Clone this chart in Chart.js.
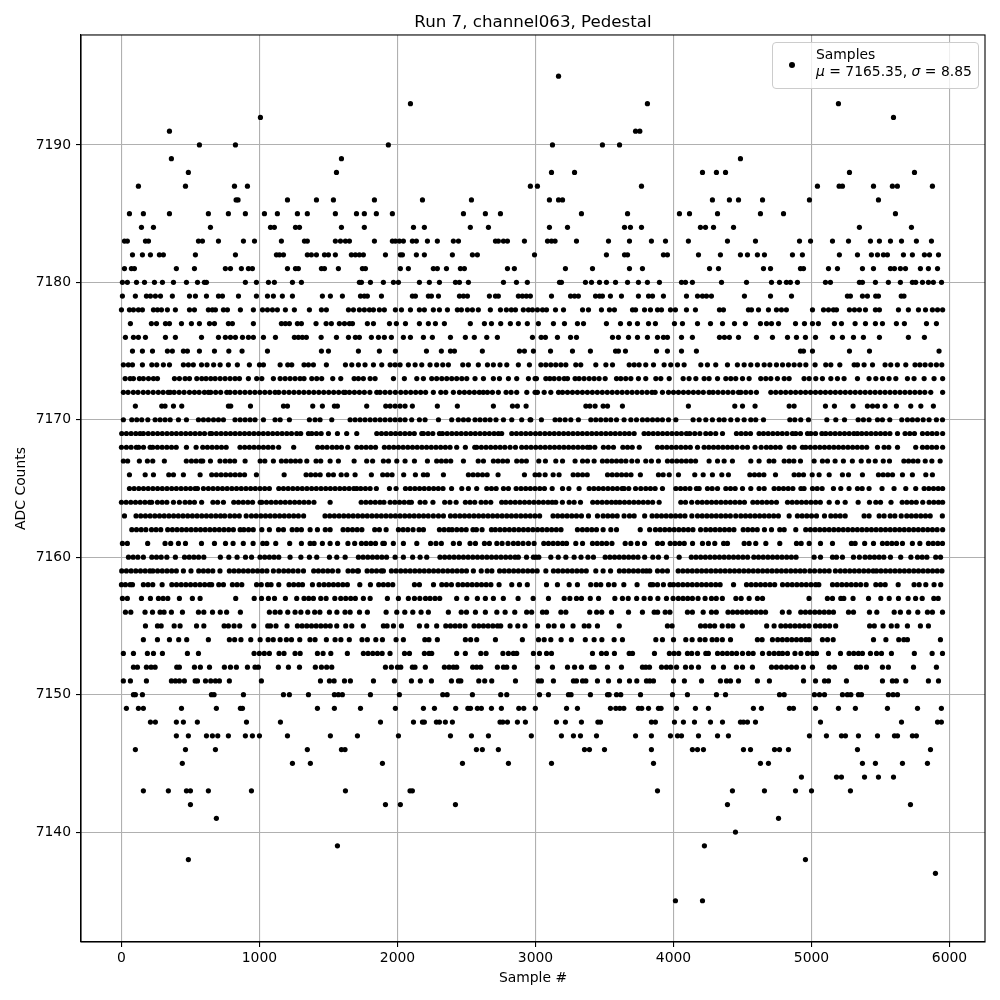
<!DOCTYPE html>
<html>
<head>
<meta charset="utf-8">
<script src="https://cdn.jsdelivr.net/npm/chart.js@4"></script>
<style>
  body { margin: 0; background: #fff; }
  #wrap { position: relative; width: 1000px; height: 1000px; }
  #legendBox {
    position: absolute; left: 772px; top: 42px; width: 205px; height: 45px;
    background: rgba(255, 255, 255, 0.8); border: 1px solid #ccc; border-radius: 4px;
    font: 13.9px "DejaVu Sans"; color: #000;
  }
  #legendDot { position: absolute; left: 16px; top: 19px; width: 6px; height: 6px; border-radius: 50%; background: #000; }
  #legendText { position: absolute; left: 43px; top: 3px; line-height: 17px; white-space: nowrap; }
</style>
</head>
<body>
<div id="wrap">
  <canvas id="myChart" width="1000" height="1000"></canvas>
  <div id="legendBox">
    <div id="legendDot"></div>
    <div id="legendText">Samples<br><i>μ</i> = 7165.35, <i>σ</i> = 8.85</div>
  </div>
</div>
<script>
// tick labels
const xTicks = [0, 1000, 2000, 3000, 4000, 5000, 6000];
const yTicks = [7140, 7150, 7160, 7170, 7180, 7190];

// sample numbers per ADC level (dense rows are estimates)
const adc7195 = [3167];
const adc7193 = [2094, 3811, 5195];
const adc7192 = [1007, 5594];
const adc7191 = [348, 3725, 3756];
const adc7190 = [565, 826, 1934, 3123, 3485, 3609];
const adc7189 = [362, 1594, 4485];
const adc7188 = [485, 1558, 3116, 3283, 4210, 4311, 4377, 5275, 5746];
const adc7187 = [123, 464, 819, 913, 2963, 3014, 3768, 5043, 5200, 5224, 5449, 5586, 5622, 5876];
const adc7186 = [831, 845, 1203, 1413, 1536, 1833, 2181, 2536, 3101, 3167, 3196, 4282, 4405, 4471, 4645, 4985, 5485];
const adc7185 = [58, 159, 348, 630, 775, 898, 1036, 1130, 1275, 1347, 1550, 1703, 1760, 1847, 1963, 2478, 2637, 2746, 3333, 3667, 4043, 4116, 4319, 4630, 4797, 5608];
const adc7184 = [145, 232, 645, 1080, 1108, 1261, 1290, 1594, 1760, 2116, 2195, 2528, 2659, 3101, 3232, 3645, 3688, 3768, 4195, 4232, 4290, 4435, 5347, 5724];
const adc7183 = [22, 43, 174, 196, 558, 587, 703, 884, 964, 1159, 1326, 1347, 1550, 1587, 1623, 1652, 1833, 1963, 1985, 2014, 2043, 2108, 2137, 2217, 2289, 2405, 2442, 2710, 2731, 2768, 2797, 2920, 3087, 3116, 3142, 3297, 3529, 3681, 3840, 3942, 4108, 4391, 4594, 4913, 4993, 5152, 5268, 5427, 5492, 5572, 5652, 5760, 5869];
const adc7182 = [80, 152, 210, 275, 304, 536, 826, 1123, 1145, 1174, 1347, 1376, 1413, 1471, 1500, 1550, 1666, 1695, 1724, 1753, 1913, 2021, 2036, 2137, 2195, 2398, 2543, 2579, 2993, 3514, 3645, 3667, 3927, 3956, 4181, 4340, 4485, 4536, 4608, 4659, 4862, 4934, 5202, 5333, 5434, 5478, 5521, 5550, 5666, 5731, 5818, 5855, 5920];
const adc7181 = [22, 72, 94, 398, 529, 753, 790, 869, 920, 949, 1203, 1261, 1282, 1449, 1471, 1572, 1746, 1768, 2021, 2079, 2260, 2289, 2355, 2456, 2485, 2797, 2847, 3217, 3413, 3681, 3775, 4261, 4326, 4652, 4703, 4920, 4942, 5123, 5188, 5369, 5449, 5572, 5601, 5644, 5681, 5789, 5847, 5913];
const adc7180 = [7, 43, 109, 167, 239, 297, 377, 471, 551, 601, 616, 898, 978, 1065, 1108, 1239, 1304, 1724, 1739, 1804, 1898, 1971, 2007, 2159, 2231, 2304, 2420, 2449, 2514, 2768, 2862, 2941, 3174, 3188, 3362, 3406, 3464, 3514, 3580, 3667, 3746, 3811, 3898, 4058, 4087, 4137, 4348, 4529, 4710, 4768, 4818, 4847, 4898, 5101, 5137, 5347, 5369, 5463, 5557, 5644, 5731, 5755, 5804, 5847, 5883, 5942];
const adc7179 = [7, 101, 181, 210, 246, 283, 369, 493, 536, 616, 703, 732, 848, 978, 1058, 1101, 1166, 1239, 1456, 1514, 1601, 1732, 1760, 1782, 1884, 2108, 2130, 2224, 2246, 2297, 2449, 2478, 2507, 2666, 2710, 2731, 2876, 2905, 2934, 2963, 3116, 3254, 3283, 3311, 3435, 3464, 3485, 3543, 3623, 3746, 3819, 3848, 3927, 4094, 4174, 4210, 4239, 4275, 4514, 4703, 4855, 5260, 5282, 5369, 5405, 5465, 5485, 5650, 5670];
const adc7178 = [0, 58, 87, 123, 152, 232, 261, 290, 333, 391, 493, 529, 630, 659, 681, 739, 768, 862, 956, 1022, 1058, 1094, 1130, 1188, 1253, 1362, 1449, 1485, 1645, 1681, 1724, 1760, 1797, 1826, 1869, 1905, 1985, 2029, 2094, 2159, 2195, 2260, 2304, 2362, 2434, 2463, 2507, 2543, 2586, 2673, 2746, 2789, 2825, 2855, 2912, 2949, 2978, 3014, 3051, 3080, 3145, 3203, 3341, 3384, 3478, 3536, 3572, 3703, 3725, 3790, 3833, 3884, 3913, 3978, 4014, 4094, 4159, 4333, 4362, 4543, 4565, 4616, 4688, 4746, 4782, 4818, 5007, 5087, 5123, 5159, 5181, 5275, 5311, 5347, 5391, 5463, 5492, 5630, 5702, 5775, 5826, 5876, 5913, 5950];
const adc7177 = [65, 217, 254, 319, 348, 435, 507, 565, 638, 674, 775, 804, 956, 1159, 1188, 1217, 1275, 1304, 1410, 1483, 1521, 1579, 1616, 1652, 1674, 1782, 1826, 1942, 1992, 2058, 2159, 2224, 2275, 2340, 2528, 2630, 2681, 2748, 2818, 2876, 2941, 3021, 3130, 3210, 3304, 3348, 3514, 3616, 3681, 3739, 3819, 3869, 4007, 4065, 4174, 4268, 4355, 4442, 4521, 4630, 4674, 4710, 4761, 4884, 4949, 5007, 5050, 5166, 5217, 5316, 5391, 5463, 5514, 5615, 5673, 5833, 5905];
const adc7176 = [29, 87, 123, 174, 319, 391, 580, 703, 753, 790, 826, 877, 920, 956, 1029, 1116, 1253, 1282, 1311, 1340, 1447, 1558, 1645, 1695, 1724, 1811, 1862, 1905, 1956, 2043, 2094, 2188, 2253, 2384, 2492, 2557, 2647, 2724, 2978, 3041, 3072, 3159, 3254, 3297, 3558, 3601, 3674, 3739, 3811, 3884, 3927, 3956, 4058, 4137, 4333, 4369, 4405, 4471, 4601, 4717, 4826, 4891, 4956, 5029, 5152, 5224, 5304, 5376, 5492, 5702, 5818];
const adc7175 = [80, 152, 225, 333, 369, 449, 478, 565, 674, 778, 874, 1058, 1449, 1500, 1717, 1869, 1985, 2210, 2318, 2384, 2413, 2615, 2884, 2920, 2985, 3109, 3268, 3398, 3580, 3601, 3652, 3877, 3956, 4058, 4166, 4920, 4942, 5007, 5275, 5420, 5924];
const adc7174 = [14, 50, 80, 152, 220, 256, 304, 348, 449, 485, 521, 580, 620, 668, 715, 775, 840, 927, 1000, 1029, 1150, 1205, 1234, 1323, 1355, 1391, 1485, 1623, 1669, 1717, 1765, 1826, 1886, 1947, 1983, 2019, 2079, 2128, 2176, 2236, 2284, 2328, 2369, 2473, 2514, 2586, 2652, 2695, 2743, 2792, 2876, 2956, 3039, 3075, 3111, 3147, 3184, 3220, 3292, 3328, 3437, 3510, 3558, 3679, 3715, 3751, 3799, 3855, 3932, 3980, 4029, 4077, 4198, 4246, 4306, 4391, 4463, 4512, 4560, 4608, 4657, 4698, 4746, 4790, 4833, 4874, 4915, 4959, 5026, 5103, 5140, 5205, 5309, 5333, 5381, 5442, 5533, 5574, 5622, 5683, 5750, 5785, 5823, 5864, 5905, 5944];
const adc7173 = [27, 63, 87, 130, 159, 196, 232, 261, 384, 420, 461, 493, 546, 582, 613, 647, 679, 715, 751, 787, 823, 855, 920, 980, 1017, 1101, 1150, 1186, 1222, 1258, 1294, 1323, 1379, 1415, 1451, 1531, 1589, 1686, 1717, 1753, 1802, 1838, 1971, 2050, 2140, 2188, 2248, 2284, 2321, 2357, 2393, 2429, 2466, 2502, 2562, 2623, 2695, 2739, 2804, 2864, 2949, 2997, 3007, 3075, 3104, 3135, 3171, 3208, 3232, 3287, 3316, 3352, 3389, 3425, 3461, 3505, 3587, 3618, 3654, 3691, 3746, 3799, 3872, 3908, 3969, 4070, 4113, 4162, 4222, 4258, 4319, 4379, 4415, 4451, 4500, 4548, 4632, 4669, 4705, 4753, 4802, 4838, 4946, 4983, 5031, 5079, 5140, 5188, 5236, 5333, 5417, 5466, 5514, 5562, 5611, 5695, 5743, 5816, 5888, 5950];
const adc7172 = [14, 48, 86, 120, 158, 193, 230, 267, 302, 338, 353, 382, 418, 454, 493, 529, 563, 601, 630, 647, 683, 719, 763, 787, 823, 859, 895, 931, 967, 1003, 1039, 1075, 1113, 1140, 1178, 1214, 1250, 1286, 1322, 1358, 1394, 1430, 1466, 1502, 1538, 1574, 1610, 1622, 1652, 1688, 1724, 1760, 1800, 1850, 1874, 1910, 1946, 1985, 2024, 2060, 2096, 2132, 2168, 2204, 2260, 2314, 2350, 2405, 2449, 2485, 2521, 2557, 2593, 2622, 2652, 2688, 2731, 2787, 2823, 2864, 2937, 2997, 3014, 3063, 3111, 3167, 3196, 3232, 3268, 3304, 3340, 3376, 3412, 3448, 3484, 3520, 3556, 3592, 3628, 3664, 3700, 3736, 3772, 3808, 3844, 3867, 3920, 3964, 4000, 4036, 4072, 4108, 4144, 4180, 4216, 4258, 4287, 4323, 4359, 4395, 4431, 4471, 4488, 4524, 4560, 4601, 4705, 4741, 4777, 4813, 4849, 4885, 4921, 4957, 4993, 5029, 5065, 5101, 5137, 5173, 5209, 5245, 5281, 5317, 5353, 5389, 5425, 5461, 5497, 5533, 5569, 5605, 5641, 5677, 5713, 5749, 5785, 5821, 5864, 5950];
const adc7171 = [101, 292, 316, 377, 437, 775, 792, 935, 1174, 1203, 1386, 1456, 1543, 1565, 1777, 1915, 1947, 1983, 2019, 2055, 2108, 2289, 2434, 2695, 2833, 2869, 2932, 3365, 3394, 3432, 3490, 3522, 3630, 4108, 4444, 4500, 4591, 4838, 4874, 5101, 5166, 5301, 5405, 5442, 5478, 5533, 5615, 5719, 5792, 5883];
const adc7170 = [14, 75, 111, 147, 191, 244, 280, 316, 353, 413, 471, 558, 594, 630, 667, 703, 739, 823, 860, 896, 932, 968, 1029, 1113, 1150, 1217, 1362, 1403, 1439, 1524, 1657, 1693, 1729, 1765, 1802, 1838, 1874, 1910, 1947, 1983, 2019, 2055, 2103, 2159, 2200, 2297, 2393, 2441, 2478, 2514, 2562, 2598, 2635, 2671, 2714, 2768, 2828, 2900, 2961, 2966, 3043, 3142, 3176, 3215, 3256, 3311, 3401, 3437, 3473, 3510, 3546, 3587, 3642, 3691, 3732, 3775, 3811, 3848, 3884, 3920, 3964, 4017, 4142, 4186, 4234, 4282, 4331, 4367, 4415, 4463, 4512, 4560, 4596, 4652, 4843, 4879, 4922, 4978, 5111, 5176, 5239, 5338, 5376, 5417, 5478, 5514, 5567, 5654, 5695, 5731, 5768, 5809, 5852, 5905, 5949];
const adc7169 = [2, 36, 70, 104, 135, 159, 194, 228, 262, 296, 330, 364, 398, 432, 466, 500, 534, 568, 602, 642, 654, 688, 722, 756, 790, 824, 858, 892, 926, 960, 994, 1028, 1062, 1096, 1130, 1164, 1198, 1232, 1270, 1299, 1355, 1379, 1413, 1447, 1500, 1565, 1632, 1705, 1850, 1884, 1918, 1952, 1986, 2020, 2054, 2088, 2122, 2176, 2188, 2222, 2256, 2304, 2326, 2360, 2394, 2428, 2462, 2496, 2530, 2564, 2598, 2632, 2666, 2700, 2731, 2755, 2828, 2862, 2896, 2930, 2964, 3000, 3033, 3068, 3102, 3136, 3170, 3204, 3238, 3272, 3306, 3340, 3374, 3408, 3442, 3476, 3510, 3544, 3578, 3612, 3646, 3679, 3715, 3787, 3819, 3853, 3887, 3921, 3955, 3989, 4023, 4057, 4094, 4118, 4154, 4191, 4234, 4268, 4306, 4355, 4456, 4490, 4524, 4558, 4620, 4652, 4686, 4720, 4754, 4788, 4822, 4862, 4886, 4920, 4971, 4995, 5029, 5075, 5103, 5137, 5171, 5205, 5239, 5273, 5307, 5333, 5364, 5398, 5432, 5466, 5500, 5534, 5568, 5623, 5678, 5712, 5746, 5804, 5840, 5874, 5908, 5950];
const adc7168 = [0, 36, 70, 108, 125, 160, 208, 227, 261, 295, 329, 363, 397, 471, 541, 589, 623, 657, 691, 725, 759, 859, 893, 927, 961, 995, 1029, 1063, 1097, 1139, 1248, 1422, 1456, 1490, 1527, 1560, 1594, 1640, 1705, 1739, 1773, 1807, 1841, 1905, 1939, 1973, 2007, 2041, 2075, 2109, 2143, 2177, 2211, 2245, 2279, 2313, 2347, 2381, 2429, 2492, 2560, 2574, 2608, 2642, 2676, 2710, 2744, 2778, 2816, 2855, 2900, 2934, 2968, 3002, 3036, 3070, 3104, 3138, 3172, 3206, 3240, 3274, 3308, 3342, 3376, 3395, 3430, 3492, 3528, 3565, 3633, 3667, 3701, 3752, 3884, 3918, 3952, 3986, 4020, 4054, 4088, 4122, 4174, 4222, 4256, 4290, 4324, 4358, 4392, 4426, 4460, 4500, 4536, 4591, 4635, 4673, 4705, 4739, 4773, 4838, 4874, 4934, 4958, 4992, 5026, 5060, 5094, 5128, 5162, 5196, 5230, 5264, 5298, 5332, 5366, 5400, 5478, 5526, 5560, 5623, 5755, 5804, 5838, 5872, 5906, 5950];
const adc7167 = [14, 45, 130, 188, 227, 311, 470, 507, 541, 575, 589, 645, 714, 752, 786, 820, 896, 1005, 1039, 1101, 1159, 1193, 1227, 1261, 1295, 1343, 1410, 1444, 1512, 1572, 1686, 1777, 1820, 1898, 1935, 1995, 2055, 2123, 2217, 2284, 2318, 2352, 2386, 2478, 2585, 2623, 2695, 2729, 2763, 2797, 2864, 2900, 2934, 3024, 3072, 3147, 3196, 3287, 3341, 3377, 3425, 3485, 3519, 3553, 3587, 3621, 3655, 3698, 3739, 3799, 3840, 3891, 3956, 3990, 4024, 4058, 4092, 4126, 4160, 4258, 4319, 4367, 4427, 4560, 4620, 4693, 4727, 4802, 4838, 4872, 4920, 5019, 5079, 5116, 5171, 5231, 5296, 5360, 5414, 5462, 5520, 5565, 5669, 5703, 5737, 5771, 5824, 5872, 5932];
const adc7166 = [58, 172, 232, 343, 377, 449, 570, 654, 688, 722, 756, 790, 824, 858, 892, 978, 1179, 1338, 1372, 1406, 1440, 1500, 1536, 1592, 1632, 1693, 1811, 1893, 1927, 1961, 2045, 2130, 2188, 2217, 2333, 2514, 2548, 2582, 2616, 2650, 2729, 2920, 2997, 3027, 3070, 3128, 3171, 3273, 3307, 3341, 3375, 3522, 3556, 3590, 3624, 3658, 3692, 3760, 3891, 3925, 3969, 4036, 4154, 4215, 4282, 4350, 4398, 4553, 4587, 4621, 4655, 4739, 4874, 4908, 4942, 5005, 5055, 5128, 5224, 5268, 5369, 5485, 5519, 5553, 5587, 5659, 5731, 5828, 5876];
const adc7165 = [58, 92, 126, 160, 194, 228, 262, 296, 330, 364, 398, 432, 466, 500, 534, 551, 594, 630, 664, 698, 732, 766, 800, 834, 868, 902, 936, 970, 1004, 1038, 1072, 1140, 1174, 1208, 1242, 1276, 1310, 1344, 1378, 1412, 1446, 1480, 1514, 1548, 1582, 1616, 1650, 1684, 1705, 1734, 1768, 1802, 1847, 1942, 1990, 2058, 2092, 2126, 2160, 2194, 2228, 2262, 2296, 2330, 2392, 2466, 2514, 2574, 2647, 2681, 2715, 2768, 2804, 2860, 2895, 2929, 2963, 2997, 3031, 3065, 3121, 3196, 3242, 3316, 3389, 3423, 3457, 3491, 3525, 3559, 3593, 3628, 3642, 3676, 3725, 3763, 3799, 3833, 3867, 3920, 4017, 4051, 4085, 4119, 4166, 4186, 4246, 4280, 4319, 4379, 4413, 4447, 4500, 4560, 4620, 4657, 4729, 4763, 4797, 4831, 4865, 4923, 4946, 5007, 5041, 5077, 5159, 5212, 5272, 5333, 5367, 5417, 5511, 5598, 5683, 5755, 5816, 5850, 5884, 5918, 5950];
const adc7164 = [0, 34, 68, 102, 136, 170, 204, 219, 261, 295, 329, 377, 420, 461, 495, 529, 581, 663, 697, 739, 814, 848, 882, 916, 950, 1005, 1017, 1051, 1085, 1119, 1153, 1187, 1221, 1255, 1289, 1323, 1357, 1395, 1512, 1737, 1771, 1805, 1839, 1873, 1902, 1947, 1981, 2015, 2049, 2083, 2101, 2164, 2200, 2257, 2342, 2380, 2425, 2492, 2526, 2560, 2606, 2640, 2676, 2755, 2785, 2819, 2853, 2887, 2921, 2955, 2989, 3023, 3057, 3091, 3121, 3147, 3195, 3244, 3280, 3326, 3415, 3449, 3483, 3517, 3551, 3582, 3611, 3645, 3679, 3713, 3747, 3781, 3815, 3849, 3896, 4053, 4087, 4132, 4174, 4208, 4242, 4276, 4310, 4344, 4378, 4412, 4446, 4480, 4514, 4575, 4608, 4642, 4676, 4710, 4746, 4826, 4860, 4894, 4928, 4962, 4996, 5030, 5064, 5128, 5188, 5244, 5338, 5420, 5466, 5500, 5576, 5657, 5691, 5725, 5759, 5806, 5852, 5886, 5920, 5950];
const adc7163 = [22, 106, 140, 174, 208, 242, 276, 310, 344, 378, 412, 446, 480, 514, 548, 582, 616, 650, 684, 718, 748, 786, 820, 854, 904, 942, 976, 1010, 1044, 1078, 1112, 1146, 1180, 1214, 1248, 1282, 1320, 1475, 1509, 1543, 1577, 1611, 1645, 1679, 1713, 1747, 1781, 1815, 1849, 1883, 1917, 1951, 1985, 2019, 2053, 2087, 2121, 2155, 2189, 2223, 2260, 2297, 2333, 2384, 2418, 2452, 2486, 2520, 2554, 2588, 2622, 2656, 2690, 2724, 2758, 2792, 2826, 2860, 2894, 2928, 2962, 2996, 3030, 3127, 3161, 3195, 3229, 3263, 3297, 3333, 3384, 3449, 3490, 3524, 3558, 3592, 3642, 3681, 3715, 3791, 3845, 3879, 3913, 3947, 3981, 4015, 4049, 4083, 4133, 4174, 4208, 4242, 4276, 4310, 4344, 4378, 4412, 4451, 4488, 4522, 4556, 4590, 4624, 4658, 4692, 4726, 4760, 4838, 4898, 4932, 4966, 5000, 5036, 5094, 5140, 5174, 5208, 5244, 5381, 5417, 5490, 5526, 5570, 5604, 5650, 5690, 5724, 5758, 5792, 5826, 5860, 5948];
const adc7162 = [75, 109, 143, 177, 218, 251, 285, 335, 369, 403, 437, 471, 505, 539, 573, 607, 641, 675, 709, 743, 777, 811, 860, 887, 921, 955, 1017, 1072, 1138, 1174, 1237, 1271, 1304, 1367, 1420, 1477, 1512, 1606, 1640, 1674, 1708, 1742, 1835, 1869, 1918, 2007, 2041, 2075, 2113, 2156, 2188, 2304, 2338, 2372, 2396, 2430, 2464, 2498, 2547, 2572, 2613, 2681, 2709, 2743, 2777, 2811, 2845, 2879, 2913, 2947, 2981, 3015, 3049, 3083, 3117, 3151, 3185, 3304, 3340, 3374, 3408, 3442, 3490, 3546, 3587, 3759, 3827, 3869, 3903, 3937, 3971, 4005, 4039, 4073, 4107, 4141, 4196, 4234, 4268, 4302, 4336, 4370, 4404, 4438, 4505, 4539, 4573, 4607, 4659, 4710, 4770, 4802, 4886, 4958, 4992, 5026, 5060, 5094, 5128, 5162, 5196, 5230, 5264, 5298, 5332, 5366, 5400, 5434, 5468, 5502, 5536, 5570, 5604, 5638, 5672, 5706, 5740, 5774, 5808, 5842, 5876, 5910, 5950];
const adc7161 = [7, 43, 190, 316, 357, 413, 464, 580, 674, 754, 809, 883, 954, 1024, 1053, 1118, 1219, 1304, 1367, 1396, 1456, 1512, 1566, 1641, 1690, 1739, 1773, 1807, 1841, 1894, 1905, 1970, 2043, 2140, 2240, 2279, 2318, 2405, 2449, 2526, 2565, 2630, 2666, 2720, 2758, 2801, 2840, 2874, 2910, 2949, 2990, 3060, 3094, 3128, 3162, 3196, 3225, 3292, 3341, 3413, 3447, 3481, 3515, 3554, 3650, 3691, 3739, 3790, 3884, 3920, 3976, 4010, 4044, 4078, 4138, 4210, 4253, 4299, 4363, 4391, 4512, 4548, 4596, 4669, 4770, 4891, 4925, 4983, 5065, 5152, 5289, 5316, 5385, 5449, 5514, 5548, 5582, 5616, 5659, 5731, 5785, 5847, 5881, 5915, 5949];
const adc7160 = [51, 85, 119, 159, 220, 254, 288, 329, 391, 457, 491, 525, 559, 597, 717, 778, 838, 899, 943, 1004, 1038, 1072, 1106, 1140, 1222, 1300, 1362, 1415, 1507, 1560, 1621, 1717, 1751, 1785, 1819, 1853, 1887, 1921, 1983, 2043, 2110, 2164, 2212, 2308, 2342, 2376, 2410, 2444, 2478, 2512, 2546, 2580, 2614, 2648, 2682, 2716, 2750, 2784, 2818, 2852, 2876, 2935, 2985, 3003, 3024, 3111, 3165, 3220, 3280, 3330, 3380, 3420, 3505, 3539, 3573, 3607, 3641, 3675, 3709, 3743, 3791, 3850, 3891, 3949, 4041, 4129, 4163, 4197, 4231, 4265, 4299, 4333, 4367, 4401, 4435, 4469, 4503, 4537, 4582, 4616, 4650, 4684, 4718, 4752, 4786, 4820, 4854, 4888, 5019, 5065, 5152, 5181, 5224, 5304, 5347, 5388, 5422, 5456, 5490, 5524, 5572, 5646, 5720, 5768, 5802, 5836, 5900, 5935];
const adc7159 = [2, 36, 70, 104, 138, 172, 206, 228, 262, 296, 330, 364, 398, 449, 504, 560, 594, 628, 662, 714, 782, 816, 850, 884, 918, 952, 986, 1020, 1054, 1101, 1140, 1176, 1210, 1244, 1280, 1319, 1393, 1427, 1461, 1495, 1529, 1570, 1642, 1676, 1710, 1717, 1780, 1814, 1848, 1883, 1898, 1956, 1990, 2024, 2058, 2092, 2126, 2160, 2194, 2228, 2262, 2296, 2330, 2364, 2398, 2432, 2466, 2500, 2550, 2607, 2650, 2684, 2740, 2774, 2808, 2842, 2876, 2910, 2944, 2978, 3012, 3075, 3130, 3164, 3198, 3232, 3266, 3300, 3334, 3368, 3437, 3490, 3544, 3608, 3642, 3676, 3710, 3744, 3778, 3804, 3828, 3884, 3920, 3956, 4034, 4068, 4102, 4136, 4170, 4204, 4238, 4272, 4306, 4340, 4374, 4408, 4442, 4476, 4510, 4544, 4578, 4612, 4646, 4680, 4714, 4748, 4782, 4816, 4850, 4884, 4918, 4950, 4988, 5022, 5060, 5094, 5128, 5173, 5209, 5243, 5277, 5311, 5345, 5379, 5413, 5447, 5471, 5503, 5537, 5571, 5605, 5639, 5673, 5707, 5741, 5775, 5809, 5843, 5877, 5911, 5945];
const adc7158 = [0, 29, 63, 80, 159, 193, 227, 295, 365, 399, 433, 467, 501, 535, 569, 603, 637, 654, 705, 739, 804, 838, 872, 979, 1013, 1058, 1084, 1140, 1214, 1248, 1283, 1312, 1384, 1432, 1468, 1502, 1536, 1570, 1604, 1637, 1727, 1804, 1864, 1898, 1932, 1966, 2123, 2159, 2261, 2321, 2355, 2391, 2439, 2473, 2507, 2541, 2575, 2609, 2643, 2677, 2736, 2828, 2884, 2941, 3080, 3159, 3244, 3304, 3400, 3440, 3473, 3529, 3570, 3640, 3736, 3833, 3850, 3884, 3927, 3975, 4000, 4034, 4068, 4102, 4136, 4170, 4204, 4238, 4272, 4306, 4338, 4435, 4529, 4563, 4597, 4631, 4665, 4699, 4733, 4790, 4826, 4860, 4894, 4928, 4962, 4996, 5030, 5053, 5152, 5186, 5220, 5254, 5288, 5322, 5356, 5396, 5466, 5500, 5534, 5628, 5743, 5780, 5828, 5888, 5936];
const adc7157 = [7, 43, 145, 210, 268, 302, 336, 420, 514, 570, 828, 962, 1015, 1065, 1109, 1188, 1270, 1323, 1357, 1391, 1444, 1483, 1546, 1589, 1625, 1661, 1695, 1753, 1802, 1927, 2007, 2079, 2123, 2162, 2203, 2236, 2272, 2306, 2429, 2502, 2579, 2637, 2695, 2767, 2874, 2983, 3094, 3208, 3249, 3297, 3333, 3397, 3457, 3575, 3630, 3672, 3733, 3787, 3832, 3887, 3949, 3997, 4035, 4069, 4103, 4137, 4178, 4229, 4275, 4310, 4354, 4452, 4490, 4548, 4608, 4645, 4982, 5115, 5152, 5212, 5234, 5301, 5413, 5502, 5563, 5630, 5700, 5754, 5802, 5886, 5918];
const adc7156 = [29, 68, 171, 225, 280, 309, 362, 442, 558, 597, 660, 716, 762, 862, 1072, 1113, 1150, 1205, 1258, 1300, 1350, 1400, 1438, 1507, 1561, 1620, 1657, 1725, 1782, 1918, 1995, 2053, 2111, 2171, 2224, 2369, 2462, 2500, 2565, 2637, 2720, 2780, 2850, 2936, 2972, 3051, 3080, 3184, 3220, 3393, 3443, 3480, 3551, 3674, 3775, 3860, 3885, 3940, 3974, 4101, 4137, 4215, 4275, 4310, 4395, 4429, 4463, 4497, 4531, 4565, 4599, 4633, 4667, 4789, 4838, 4922, 4956, 4990, 5024, 5058, 5092, 5126, 5159, 5268, 5304, 5420, 5473, 5599, 5644, 5704, 5770, 5840, 5876, 5949];
const adc7155 = [174, 261, 288, 382, 425, 544, 597, 744, 775, 816, 857, 959, 1060, 1080, 1120, 1200, 1275, 1309, 1343, 1377, 1411, 1445, 1479, 1513, 1560, 1625, 1669, 1753, 1898, 1925, 1971, 2029, 2159, 2212, 2284, 2350, 2384, 2418, 2452, 2490, 2555, 2589, 2623, 2657, 2691, 2725, 2748, 2816, 2872, 2924, 3015, 3094, 3135, 3196, 3272, 3353, 3387, 3449, 3607, 3956, 3990, 4196, 4230, 4264, 4298, 4353, 4396, 4430, 4499, 4675, 4729, 4778, 4812, 4846, 4880, 4914, 4948, 4982, 5029, 5063, 5097, 5131, 5175, 5421, 5455, 5518, 5578, 5620, 5695, 5789, 5847];
const adc7154 = [159, 261, 348, 415, 473, 630, 782, 820, 866, 937, 1005, 1063, 1100, 1150, 1195, 1232, 1292, 1366, 1403, 1485, 1548, 1590, 1651, 1743, 1782, 1843, 1891, 1990, 2043, 2198, 2228, 2289, 2492, 2530, 2574, 2710, 2905, 3022, 3063, 3111, 3186, 3260, 3361, 3425, 3481, 3570, 3630, 3872, 3920, 4000, 4089, 4135, 4191, 4229, 4280, 4314, 4354, 4413, 4608, 4642, 4717, 4755, 4789, 4823, 4857, 4891, 4925, 4959, 4983, 5079, 5116, 5157, 5449, 5539, 5632, 5669, 5695, 5934];
const adc7153 = [14, 87, 188, 232, 297, 478, 558, 961, 999, 1035, 1072, 1142, 1178, 1258, 1295, 1420, 1461, 1517, 1637, 1753, 1787, 1821, 1855, 1889, 1946, 2051, 2087, 2195, 2229, 2248, 2429, 2492, 2604, 2642, 2764, 2804, 2840, 2864, 2985, 3029, 3080, 3116, 3413, 3478, 3514, 3572, 3679, 3703, 3862, 3970, 4004, 4038, 4101, 4132, 4174, 4234, 4253, 4319, 4355, 4389, 4423, 4457, 4500, 4543, 4577, 4645, 4693, 4729, 4763, 4790, 4826, 4880, 4923, 4971, 5007, 5036, 5123, 5210, 5272, 5306, 5340, 5369, 5427, 5471, 5507, 5579, 5745, 5874, 5949];
const adc7152 = [87, 116, 181, 215, 244, 401, 420, 529, 572, 638, 746, 790, 833, 913, 968, 992, 1137, 1210, 1290, 1405, 1449, 1487, 1524, 1913, 1956, 2000, 2024, 2108, 2127, 2202, 2340, 2374, 2405, 2429, 2545, 2574, 2603, 2724, 2768, 2792, 2847, 3014, 3123, 3232, 3283, 3333, 3406, 3425, 3522, 3623, 3775, 3799, 3826, 3913, 3949, 3980, 4022, 4087, 4130, 4181, 4290, 4362, 4456, 4500, 4572, 4710, 4746, 4782, 4819, 4855, 4891, 4941, 5007, 5130, 5166, 5326, 5355, 5398, 5514, 5557, 5739, 5905];
const adc7151 = [14, 65, 181, 362, 391, 420, 456, 534, 551, 609, 647, 681, 710, 782, 1014, 1442, 1507, 1541, 1616, 1659, 1826, 1978, 2101, 2166, 2246, 2391, 2442, 2459, 2589, 2632, 2683, 2855, 3021, 3043, 3130, 3275, 3297, 3341, 3365, 3449, 3529, 3609, 3681, 3734, 3804, 3828, 3855, 4000, 4079, 4203, 4340, 4384, 4413, 4471, 4608, 4695, 4942, 5029, 5094, 5123, 5253, 5514, 5586, 5615, 5683, 5847, 5920];
const adc7150 = [87, 101, 152, 652, 671, 884, 1174, 1217, 1355, 1543, 1572, 1601, 1804, 2014, 2328, 2360, 2543, 2748, 2792, 3029, 3094, 3239, 3258, 3398, 3522, 3534, 3587, 3618, 3761, 3993, 4101, 4311, 4377, 4768, 4802, 5021, 5058, 5094, 5224, 5260, 5285, 5340, 5362, 5557, 5591, 5623];
const adc7149 = [36, 123, 159, 435, 688, 862, 877, 1420, 1543, 1732, 1985, 2188, 2268, 2422, 2510, 2529, 2579, 2608, 2681, 2753, 2879, 2915, 2999, 3225, 3304, 3543, 3582, 3611, 3640, 3746, 3770, 3819, 3891, 3910, 4022, 4159, 4253, 4579, 4637, 4840, 4869, 5029, 5195, 5318, 5550, 5768, 5941];
const adc7148 = [210, 246, 398, 449, 550, 906, 1152, 1877, 2116, 2181, 2195, 2282, 2304, 2347, 2398, 2743, 2763, 2797, 2869, 2927, 3152, 3217, 3333, 3452, 3471, 3840, 3869, 4007, 4072, 4152, 4268, 4355, 4485, 4507, 4536, 4594, 5065, 5652, 5913, 5941];
const adc7147 = [398, 485, 616, 659, 698, 775, 898, 949, 1000, 1203, 1514, 1710, 2007, 2384, 2536, 2659, 2970, 3188, 3275, 3326, 3442, 3725, 3840, 3978, 4029, 4058, 4181, 4319, 4398, 4985, 5108, 5217, 5246, 5340, 5478, 5601, 5623, 5731, 5760];
const adc7146 = [101, 464, 681, 1347, 1594, 1620, 2572, 2615, 2731, 3355, 3391, 3500, 3840, 4137, 4174, 4217, 4507, 4558, 4732, 4768, 4833, 5333, 5862];
const adc7145 = [441, 1239, 1369, 1891, 2471, 2804, 3116, 3855, 4630, 4688, 5369, 5463, 5659, 5840];
const adc7144 = [4927, 5181, 5217, 5384, 5485, 5594];
const adc7143 = [159, 340, 471, 500, 630, 942, 1623, 2091, 2108, 3884, 4427, 4659, 4884, 5000, 5282];
const adc7142 = [500, 1913, 2021, 2420, 4391, 5717];
const adc7141 = [688, 4761];
const adc7140 = [4449];
const adc7139 = [1565, 4224];
const adc7138 = [485, 4956];
const adc7137 = [5898];
const adc7135 = [4014, 4210];

const adcLevels = [7195, 7193, 7192, 7191, 7190, 7189, 7188, 7187, 7186, 7185, 7184, 7183, 7182, 7181, 7180, 7179, 7178, 7177, 7176, 7175, 7174, 7173, 7172, 7171, 7170, 7169, 7168, 7167, 7166, 7165, 7164, 7163, 7162, 7161, 7160, 7159, 7158, 7157, 7156, 7155, 7154, 7153, 7152, 7151, 7150, 7149, 7148, 7147, 7146, 7145, 7144, 7143, 7142, 7141, 7140, 7139, 7138, 7137, 7135];
const sampleRows = [adc7195, adc7193, adc7192, adc7191, adc7190, adc7189, adc7188, adc7187, adc7186, adc7185, adc7184, adc7183, adc7182, adc7181, adc7180, adc7179, adc7178, adc7177, adc7176, adc7175, adc7174, adc7173, adc7172, adc7171, adc7170, adc7169, adc7168, adc7167, adc7166, adc7165, adc7164, adc7163, adc7162, adc7161, adc7160, adc7159, adc7158, adc7157, adc7156, adc7155, adc7154, adc7153, adc7152, adc7151, adc7150, adc7149, adc7148, adc7147, adc7146, adc7145, adc7144, adc7143, adc7142, adc7141, adc7140, adc7139, adc7138, adc7137, adc7135];

const points = [];
adcLevels.forEach((level, i) => {
  sampleRows[i].forEach((s) => points.push({ x: s, y: level }));
});

const tickFont = { family: "DejaVu Sans", size: 13.9 };

// top and right spines, chart.js only draws the axis borders
const frame = {
  id: "frame",
  afterDraw(chart) {
    const { ctx, chartArea: a } = chart;
    ctx.save();
    ctx.strokeStyle = "#000";
    ctx.lineWidth = 1.1;
    ctx.strokeRect(a.left, a.top, a.right - a.left, a.bottom - a.top);
    ctx.restore();
  },
};

new Chart(document.getElementById("myChart"), {
  type: "scatter",
  data: {
    datasets: [
      {
        label: "Samples",
        data: points,
        backgroundColor: "#000",
        borderWidth: 0,
        pointRadius: 2.6,
      },
    ],
  },
  options: {
    responsive: false,
    animation: false,
    layout: { padding: { right: 15 } },
    plugins: {
      legend: { display: false },
      tooltip: { enabled: false },
      title: {
        display: true,
        fullSize: false,
        text: "Run 7, channel063, Pedestal",
        color: "#000",
        font: { family: "DejaVu Sans", size: 16.67, weight: "normal", lineHeight: 1 },
        padding: { top: 14, bottom: 4.3 },
      },
    },
    scales: {
      x: {
        type: "linear",
        min: -293,
        max: 6257,
        afterBuildTicks: (axis) => {
          axis.ticks = xTicks.map((v) => ({ value: v }));
        },
        afterFit: (axis) => {
          axis.height = 58;
        },
        ticks: { color: "#000", font: tickFont, padding: 3, maxRotation: 0, callback: (v) => String(v) },
        grid: { color: "#b0b0b0", lineWidth: 1.1, tickColor: "#000", tickLength: 5, tickWidth: 1.1 },
        border: { color: "#000", width: 1.1 },
        title: { display: true, text: "Sample #", color: "#000", font: tickFont, padding: { top: 0, bottom: 13 } },
      },
      y: {
        type: "linear",
        min: 7132,
        max: 7198,
        afterBuildTicks: (axis) => {
          axis.ticks = yTicks.map((v) => ({ value: v }));
        },
        afterFit: (axis) => {
          axis.width = 81;
        },
        ticks: { color: "#000", font: tickFont, padding: 5, callback: (v) => String(v) },
        grid: { color: "#b0b0b0", lineWidth: 1.1, tickColor: "#000", tickLength: 5, tickWidth: 1.1 },
        border: { color: "#000", width: 1.1 },
        title: { display: true, text: "ADC Counts", color: "#000", font: tickFont, padding: { top: 13, bottom: 0 } },
      },
    },
  },
  plugins: [frame],
});
</script>
</body>
</html>
